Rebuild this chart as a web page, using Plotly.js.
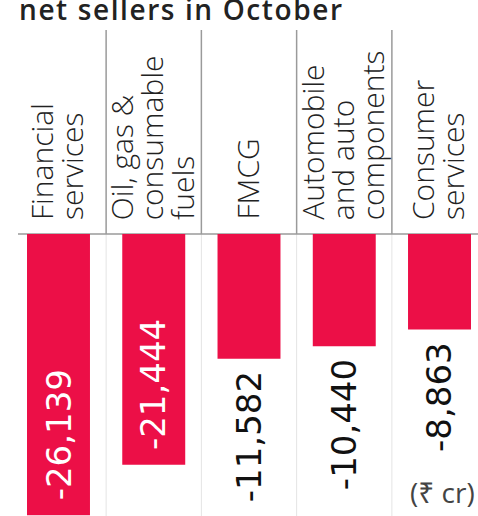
<!DOCTYPE html>
<html><head><meta charset="utf-8">
<script src="https://cdn.plot.ly/plotly-3.0.1.min.js"></script>
<style>
html,body{margin:0;padding:0;background:#fff;}
#chart{width:478px;height:516px;}
.annotation[data-index="0"] text{letter-spacing:1.6px;}
</style>
</head><body><div id="chart"></div>
<script>
// ---- data ----
const categories = ["Financial<br>services", "Oil, gas &<br>consumable<br>fuels", "FMCG", "Automobile<br>and auto<br>components", "Consumer<br>services"];
const values = [-26139, -21444, -11582, -10440, -8863];
const valueLabels = ["-26,139", "-21,444", "-11,582", "-10,440", "-8,863"];
const titleText = "net sellers in October";
const unitText = "(\u20B9 cr)";

// ---- layout constants ----
const W = 478, H = 516;
const zeroPx = 234;            // pixel row of the zero line
const yMin = -26200;
const yMax = -yMin * zeroPx / (H - zeroPx);
const barColor = "#EC0F47";
const catFont = {family: "Open Sans, Noto Sans, sans-serif", size: 30, color: "#222", weight: 300};
const numFont = {family: "DejaVu Sans, sans-serif", size: 34};
const lineStep = 30;

const annotations = [];
// title
annotations.push({xref: "paper", yref: "paper", x: 17 / W, y: 1, xanchor: "left", yanchor: "top", align: "left",
  yshift: 12, showarrow: false, text: titleText,
  font: {family: "Open Sans, sans-serif", size: 28, color: "#222", weight: 600}});
// category labels
categories.forEach((c, i) => {
  const lines = c.split("<br>");
  const n = lines.length;
  lines.forEach((ln, j) => {
    annotations.push({x: i, y: 0, xref: "x", yref: "y", xanchor: "center", yanchor: "bottom",
      xshift: (j - (n - 1) / 2) * lineStep - 2, yshift: 12, textangle: -90, showarrow: false,
      text: ln, font: catFont});
  });
});
// value labels
values.forEach((v, i) => {
  const inside = Math.abs(v) > 15000;
  annotations.push({x: i, y: v, xref: "x", yref: "y", xanchor: "center",
    yanchor: inside ? "bottom" : "top", yshift: inside ? 13 : -11, textangle: -90, showarrow: false,
    text: valueLabels[i], font: Object.assign({}, numFont, {color: inside ? "#fff" : "#111"})});
});
// unit
annotations.push({xref: "paper", yref: "paper", x: 1, y: 0, xanchor: "right", yanchor: "bottom",
  xshift: -1, yshift: 3, showarrow: false, text: unitText,
  font: {family: "Open Sans, Noto Sans, DejaVu Sans, sans-serif", size: 28, color: "#444"}});

const shapes = [];
const zeroFrac = 1 - zeroPx / H;
for (let i = 0; i < categories.length - 1; i++) {
  shapes.push({type: "line", xref: "x", yref: "paper", x0: i + 0.5, x1: i + 0.5, y0: zeroFrac, y1: 1 - 30 / H,
    line: {color: "#9a9a9a", width: 1.5}, layer: "below"});
  shapes.push({type: "line", xref: "x", yref: "paper", x0: i + 0.5, x1: i + 0.5, y0: 0, y1: zeroFrac,
    line: {color: "#e4e4e4", width: 1}, layer: "below"});
}
shapes.push({type: "line", xref: "paper", yref: "y", x0: 18 / W, x1: 1, y0: 0, y1: 0,
  line: {color: "#9a9a9a", width: 1.5}, layer: "below"});

const trace = {
  type: "bar",
  x: categories.map((c, i) => i),
  y: values,
  marker: {color: barColor},
  hoverinfo: "skip"
};

const layout = {
  width: W, height: H,
  margin: {l: 0, r: 0, t: 0, b: 0},
  paper_bgcolor: "#fff", plot_bgcolor: "#fff",
  showlegend: false,
  bargap: 0.339,
  xaxis: {type: "linear", range: [-0.614, 4.404], visible: false, fixedrange: true},
  yaxis: {range: [yMin, yMax], visible: false, fixedrange: true, zeroline: false, showgrid: false},
  annotations: annotations,
  shapes: shapes
};

Plotly.newPlot("chart", [trace], layout, {staticPlot: true, displayModeBar: false});
</script>
</body></html>
